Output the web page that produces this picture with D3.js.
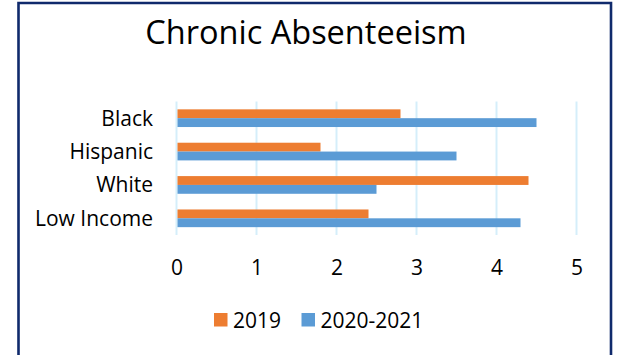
<!DOCTYPE html>
<html>
<head>
<meta charset="utf-8">
<script src="https://cdn.jsdelivr.net/npm/d3@7/dist/d3.min.js"></script>
<style>
  html, body { margin: 0; padding: 0; background: #ffffff; }
  svg { display: block; }
  text { font-family: "Open Sans", sans-serif; fill: #000; }
</style>
</head>
<body>
<svg id="chart" width="618" height="355"></svg>
<script>
// Chronic absenteeism by student group
const categories = ["Black", "Hispanic", "White", "Low Income"];
const seriesNames = ["2019", "2020-2021"];
const values2019 = [2.8, 1.8, 4.4, 2.4];
const values2020 = [4.5, 3.5, 2.5, 4.3];
const xTicks = [0, 1, 2, 3, 4, 5];
const colors = ["#ED7D31", "#5B9BD5"];

const svg = d3.select("#chart");
const W = 618, H = 355;

// outer frame
svg.append("path")
  .attr("d", `M18.5,${H + 2} L18.5,3 L611,3 L611,${H + 2}`)
  .attr("fill", "none")
  .attr("stroke", "#102a6c")
  .attr("stroke-width", 2.6);

// title
svg.append("text")
  .attr("x", 306).attr("y", 43.5)
  .attr("text-anchor", "middle")
  .style("font-size", "32.5px")
  .text("Chronic Absenteeism");

const x = d3.scaleLinear().domain([0, 5]).range([176.5, 576.5]);
const y = d3.scaleBand().domain(categories).range([101.5, 235]).paddingInner(0.47).paddingOuter(0.235);
const sub = d3.scaleBand().domain(seriesNames).range([0, y.bandwidth()]);

// vertical gridlines
svg.append("g")
  .selectAll("line")
  .data(xTicks)
  .join("line")
  .attr("x1", d => x(d)).attr("x2", d => x(d))
  .attr("y1", 101.5).attr("y2", 235)
  .attr("stroke", "#d5eefa")
  .attr("stroke-width", 2);

// bars
const rows = categories.map((c, i) => ({ cat: c, vals: [values2019[i], values2020[i]] }));
const groups = svg.append("g").selectAll("g")
  .data(rows)
  .join("g")
  .attr("transform", d => `translate(0,${y(d.cat)})`);

groups.selectAll("rect")
  .data(d => d.vals.map((v, j) => ({ v, s: seriesNames[j], j })))
  .join("rect")
  .attr("x", x(0) + 1)
  .attr("y", d => sub(d.s))
  .attr("width", d => x(d.v) - x(0) - 1)
  .attr("height", sub.bandwidth())
  .attr("fill", d => colors[d.j]);

// category labels
const yAxis = d3.axisLeft(y).tickSize(0).tickPadding(0);
const yg = svg.append("g").attr("transform", "translate(153,0)").call(yAxis);
yg.select(".domain").remove();
yg.selectAll("text")
  .style("font-size", "21px")
  .style("font-family", "'Open Sans', sans-serif")
  .attr("fill", "#000")
  .attr("dy", "0.35em");

// value axis labels
const xAxis = d3.axisBottom(x).tickValues(xTicks).tickSize(0).tickPadding(0).tickFormat(d3.format("d"));
const xg = svg.append("g").attr("transform", "translate(0,274.5)").call(xAxis);
xg.select(".domain").remove();
xg.selectAll("text")
  .attr("y", 0).attr("dy", 0)
  .style("font-size", "21px")
  .style("font-family", "'Open Sans', sans-serif")
  .attr("fill", "#000");

// legend
const legendX = [214, 301.5];
const legend = svg.append("g").selectAll("g")
  .data(seriesNames)
  .join("g")
  .attr("transform", (d, i) => `translate(${legendX[i]},313)`);
legend.append("rect")
  .attr("width", 13.5).attr("height", 13.5)
  .attr("fill", (d, i) => colors[i]);
legend.append("text")
  .attr("x", 19).attr("y", 14.5)
  .style("font-size", "21px")
  .text(d => d);
</script>
</body>
</html>
